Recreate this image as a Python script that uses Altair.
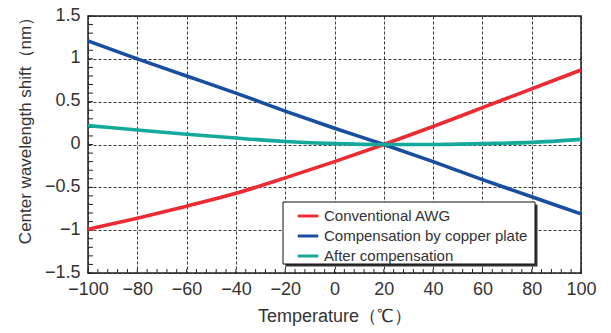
import altair as alt
import pandas as pd

# ---- data ----
temps = [-100, -80, -60, -40, -20, 0, 20, 40, 60, 80, 100]
conventional = [-0.99, -0.86, -0.72, -0.57, -0.39, -0.20, 0.0, 0.21, 0.43, 0.65, 0.87]
copper = [1.21, 1.00, 0.80, 0.60, 0.39, 0.19, 0.0, -0.20, -0.41, -0.61, -0.81]
after = [0.22, 0.17, 0.12, 0.075, 0.035, 0.01, 0.0, 0.0, 0.01, 0.025, 0.06]

series_names = ["Conventional AWG", "Compensation by copper plate", "After compensation"]
series_colors = ["#ee2a32", "#174ea0", "#14a99b"]

x_major = [-100, -80, -60, -40, -20, 0, 20, 40, 60, 80, 100]
y_major = [-1.5, -1, -0.5, 0, 0.5, 1, 1.5]
x_minor = list(range(-100, 101, 4))
y_minor = [round(-1.5 + 0.1 * i, 2) for i in range(31)]

W, H = 493, 257
FONT = "Liberation Sans"

rows = []
for name, vals in zip(series_names, [conventional, copper, after]):
    for t, v in zip(temps, vals):
        rows.append({"T": t, "shift": v, "series": name})
df = pd.DataFrame(rows)

xscale = alt.Scale(domain=[-100, 100], nice=False, zero=False)
yscale = alt.Scale(domain=[-1.5, 1.5], nice=False, zero=False)

lines = alt.Chart(df).mark_line(strokeWidth=3.6, interpolate="monotone").encode(
    x=alt.X("T:Q", scale=xscale,
            axis=alt.Axis(values=x_major, format="d", title="Temperature（℃）", grid=True,
                          gridDash=[3, 2], gridColor="#222", gridWidth=0.9,
                          ticks=False, domain=False, labelFontSize=18, labelOverlap=False,
                          labelFlush=False, labelBound=False,
                          labelPadding=7, labelColor="#333", labelFont=FONT,
                          titleFont=FONT, titleFontSize=18, titleFontWeight="normal",
                          titleColor="#333", titlePadding=9)),
    y=alt.Y("shift:Q", scale=yscale,
            axis=alt.Axis(values=y_major, format="~g",
                          title="Center wavelength shift（nm）", grid=True,
                          gridDash=[3, 2], gridColor="#222", gridWidth=0.9,
                          ticks=False, domain=False, labelFontSize=18, labelOverlap=False,
                          labelFlush=False, labelBound=False, labelOffset=-1,
                          labelPadding=8, labelColor="#333", labelFont=FONT,
                          titleFont=FONT, titleFontSize=17, titleFontWeight="normal",
                          titleColor="#333", titlePadding=10, titleY=110)),
    color=alt.Color("series:N",
                    scale=alt.Scale(domain=series_names, range=series_colors),
                    sort=series_names,
                    legend=alt.Legend(title=None, orient="none", legendX=208, legendY=188,
                                      symbolType="stroke", symbolStrokeWidth=3,
                                      symbolSize=420, labelFontSize=15, labelFont=FONT,
                                      labelColor="#333", labelOffset=4, rowPadding=0,
                                      padding=0, labelLimit=300)),
)

box = pd.DataFrame({"a": [0]})
shadow = alt.Chart(box).mark_rect(color="#333").encode(
    x=alt.value(197.5), x2=alt.value(449.5), y=alt.value(188.5), y2=alt.value(250.5)
)
legend_box = alt.Chart(box).mark_rect(fill="white", stroke="#111", strokeWidth=1).encode(
    x=alt.value(195), x2=alt.value(447), y=alt.value(186), y2=alt.value(248)
)

xt = alt.Chart(pd.DataFrame({"v": x_minor})).mark_rule(color="#222", strokeWidth=1).encode(
    x=alt.X("v:Q", scale=xscale), y=alt.value(H), y2=alt.value(H - 4)
)
yt = alt.Chart(pd.DataFrame({"v": y_minor})).mark_rule(color="#222", strokeWidth=1).encode(
    y=alt.Y("v:Q", scale=yscale), x=alt.value(0), x2=alt.value(5)
)

chart = alt.layer(xt, yt, shadow, legend_box, lines).properties(
    width=W, height=H,
    autosize=alt.AutoSizeParams(type="none"),
    padding={"left": 88, "top": 16, "right": 30, "bottom": 60},
    background="white",
).configure_view(stroke="#222", strokeWidth=1.5)

chart.save("out.html", embed_options={"renderer": "svg", "actions": False})
